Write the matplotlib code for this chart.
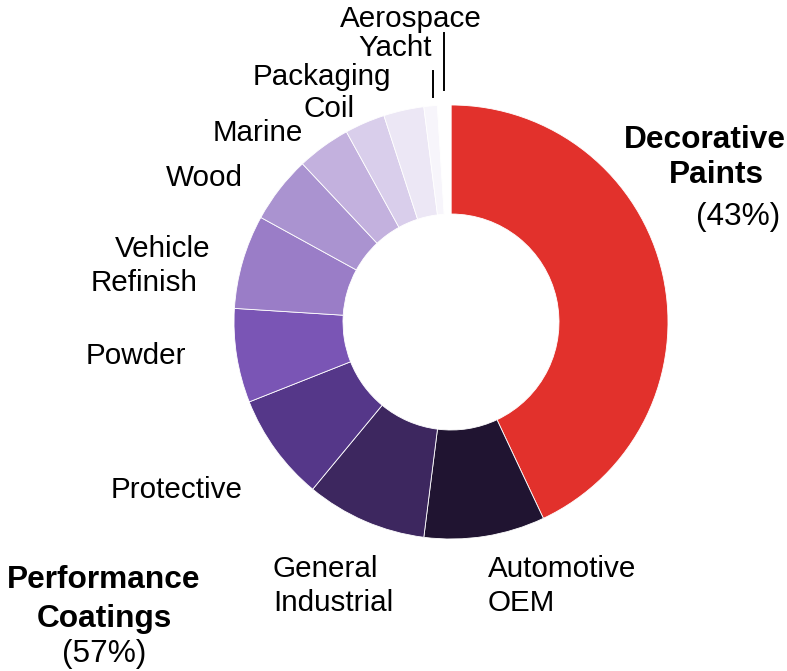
import matplotlib
matplotlib.use('Agg')
import matplotlib.pyplot as plt

# Segmentos do mercado de tintas (% do total), no sentido horário a partir do topo
segmentos = ['Decorative Paints', 'Automotive OEM', 'General Industrial', 'Protective',
             'Powder', 'Vehicle Refinish', 'Wood', 'Marine', 'Coil', 'Packaging',
             'Yacht', 'Aerospace']
participacao = [43, 9, 9, 8, 7, 7, 5, 4, 3, 3, 1, 1]
cores = ['#E2312C', '#201431', '#3D275F', '#553789', '#7A55B5', '#9A7DC7',
         '#AA93D0', '#C3B1DE', '#D9CEEB', '#ECE7F5', '#F7F5FB', '#FFFFFF']

plt.rcParams['font.family'] = ['Liberation Sans', 'DejaVu Sans']

W, H = 787, 671
fig = plt.figure(figsize=(W / 100, H / 100), dpi=100)
ax = fig.add_axes([0, 0, 1, 1])

# Gráfico de rosca em coordenadas de pixel (y medido de baixo para cima)
ax.pie(participacao, colors=cores, radius=217, center=(451, H - 322),
       startangle=90, counterclock=False,
       wedgeprops=dict(width=109, edgecolor='white', linewidth=0.6))
ax.set_xlim(0, W)
ax.set_ylim(0, H)
ax.set_aspect('equal')
ax.axis('off')

fs = 21.3
fs_grupo = 22.8


def rotulo(x, y, texto, ha='center', bold=False, size=fs):
    ax.text(x, H - y, texto, ha=ha, va='baseline', fontsize=size,
            fontweight='bold' if bold else 'normal', color='black')


# Rótulos dos segmentos
rotulo(411, 27, 'Aerospace')
rotulo(395, 56, 'Yacht')
rotulo(322, 85, 'Packaging')
rotulo(329, 117, 'Coil')
rotulo(258, 141, 'Marine')
rotulo(204, 186, 'Wood')
rotulo(163, 257, 'Vehicle')
rotulo(144, 291, 'Refinish')
rotulo(136, 364, 'Powder')
rotulo(177, 498, 'Protective')
rotulo(273, 577, 'General', ha='left')
rotulo(273, 611, 'Industrial', ha='left')
rotulo(488, 577, 'Automotive', ha='left')
rotulo(488, 611, 'OEM', ha='left')

# Totais por grupo
rotulo(705, 148, 'Decorative', bold=True, size=fs_grupo)
rotulo(716, 183, 'Paints', bold=True, size=fs_grupo)
rotulo(738, 225, '(43%)', size=fs_grupo)
rotulo(104, 588, 'Performance', bold=True, size=fs_grupo)
rotulo(104, 627, 'Coatings', bold=True, size=fs_grupo)
rotulo(104, 662, '(57%)', size=fs_grupo)

# Linhas de chamada para as fatias pequenas
ax.plot([433, 433], [H - 71, H - 97], color='black', lw=1.4)
ax.plot([444, 444], [H - 33, H - 90], color='black', lw=1.4)

fig.savefig('out.png', dpi=100)
